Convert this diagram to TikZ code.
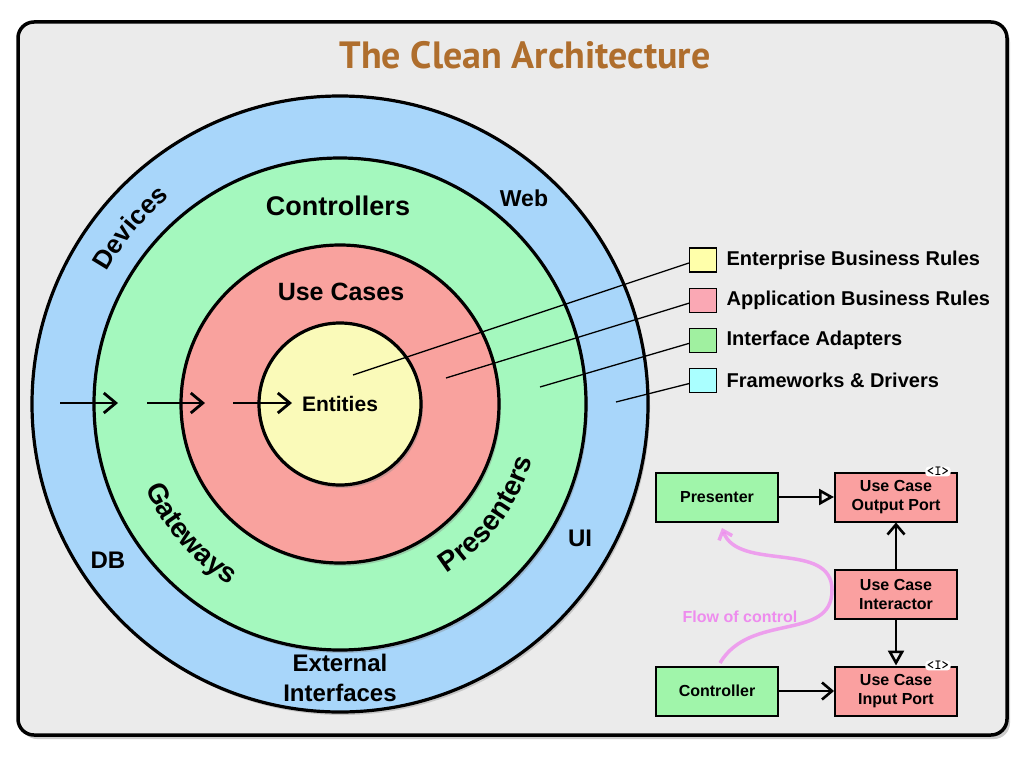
\documentclass[tikz,border=0pt]{standalone}
\usepackage{fontspec}
\setmainfont{Liberation Sans}
\newfontfamily\titlefont{PT Sans}
\usetikzlibrary{positioning,arrows.meta,shadows,decorations.text}

\definecolor{panelgray}{RGB}{235,235,235}
\definecolor{ringblue}{RGB}{168,214,250}
\definecolor{ringgreen}{RGB}{164,248,190}
\definecolor{ringred}{RGB}{249,162,158}
\definecolor{ringyellow}{RGB}{250,250,185}
\definecolor{legyellow}{RGB}{255,255,170}
\definecolor{legpink}{RGB}{250,168,180}
\definecolor{leggreen}{RGB}{160,240,160}
\definecolor{legcyan}{RGB}{170,255,255}
\definecolor{boxgreen}{RGB}{160,245,170}
\definecolor{boxred}{RGB}{250,160,160}
\definecolor{flowpink}{RGB}{238,140,238}
\definecolor{titlebrown}{RGB}{175,110,45}

\newcommand\arcfont{\bfseries\fontsize{26}{26}\selectfont}
\newcommand\arcfontbig{\bfseries\fontsize{28}{28}\selectfont}

\begin{document}
\begin{tikzpicture}[
  x=1pt, y=-1pt,
  ring/.style={circle, draw, line width=3.2pt, inner sep=0pt,
    drop shadow={shadow xshift=2pt, shadow yshift=-3pt, opacity=0.35}},
  lbl/.style={font=\bfseries\fontsize{24}{30}\selectfont, align=center},
  legbox/.style={rectangle, draw, line width=1.2pt, minimum width=27pt, minimum height=24pt, inner sep=0pt},
  legtext/.style={font=\bfseries\fontsize{20}{20}\selectfont},
  ucbox/.style={rectangle, draw, line width=2pt, minimum width=122pt, minimum height=49pt,
    inner sep=0pt, align=center, font=\bfseries\fontsize{16}{19}\selectfont},
  ifmark/.style={rectangle, fill=white, rounded corners=3pt, inner xsep=1.5pt, inner ysep=0.5pt, font=\ttfamily\bfseries\fontsize{14}{14}\selectfont},
  layerarrow/.style={line width=2.8pt, -{Straight Barb[length=12pt, width=20pt]}},
  barb/.style={line width=2.6pt, -{Straight Barb[length=10pt, width=17pt]}},
  realize/.style={line width=2.6pt, -{Triangle[open, length=15pt, width=16pt]}}
]
\useasboundingbox (0,0) rectangle (1024,768);

% panel and title
\draw[line width=3.5pt, rounded corners=16pt, fill=panelgray,
  drop shadow={shadow xshift=3pt, shadow yshift=-4pt, opacity=0.4}] (18,22) rectangle (1007,735);
\node[font=\titlefont\bfseries\fontsize{38}{38}\selectfont, text=titlebrown] (title) at (525,55) {The Clean Architecture};

% the four layers
\node[ring, fill=ringblue, minimum size=616pt] (frameworks) at (340,404) {};
\node[ring, fill=ringgreen, minimum size=492pt] (adapters) at (340,404) {};
\node[ring, fill=ringred, minimum size=318pt] (usecases) at (340,404) {};
\node[ring, fill=ringyellow, minimum size=162pt, font=\bfseries\fontsize{21}{21}\selectfont] (entities) at (340,404) {Entities};

% dependency arrows
\coordinate (dep1a) at (60,403);  \coordinate (dep1b) at (118,403);
\coordinate (dep2a) at (147,403); \coordinate (dep2b) at (205,403);
\coordinate (dep3a) at (233,403); \coordinate (dep3b) at (292,403);
\draw[layerarrow] (dep1a) -- (dep1b);
\draw[layerarrow] (dep2a) -- (dep2b);
\draw[layerarrow] (dep3a) -- (dep3b);

% straight labels
\node[lbl, font=\bfseries\fontsize{27}{27}\selectfont] (ctrllbl) at (338,206) {Controllers};
\node[lbl, font=\bfseries\fontsize{25}{25}\selectfont] (uclbl) at (341,292) {Use Cases};
\node[lbl, font=\bfseries\fontsize{23}{23}\selectfont] (weblbl) at (524,198) {Web};
\node[lbl] (dblbl) at (108,560) {DB};
\node[lbl] (uilbl) at (580,538) {UI};
\node[lbl] (extlbl) at (340,678) {External\\Interfaces};

% curved labels
\begin{scope}[shift={(340,404)}, y=1pt]
\path[decorate, decoration={text along path, text align=center, text={|\arcfont|Devices}}]
  (170:268) arc[start angle=170, end angle=110, radius=268];
\path[decorate, decoration={text along path, text align=center, text={|\arcfontbig|Gateways}}]
  (186:212) arc[start angle=186, end angle=256, radius=212];
\path[decorate, decoration={text along path, text align=center, text={|\arcfontbig|Presenters}}]
  (-68:200) arc[start angle=-68, end angle=-6, radius=200];
\end{scope}

% legend
\node[legbox, fill=legyellow] (legent) at (703,260) {};
\node[legbox, fill=legpink, below=15pt of legent] (legapp) {};
\node[legbox, fill=leggreen, below=15pt of legapp] (legifa) {};
\node[legbox, fill=legcyan, below=15pt of legifa] (legfwk) {};
\node[legtext, right=6pt of legent] (legenttxt) {Enterprise Business Rules};
\node[legtext, right=6pt of legapp] (legapptxt) {Application Business Rules};
\node[legtext, right=6pt of legifa] (legifatxt) {Interface Adapters};
\node[legtext, right=6pt of legfwk] (legfwktxt) {Frameworks \& Drivers};

\coordinate (ptent) at (353,375);
\coordinate (ptapp) at (446,378);
\coordinate (ptifa) at (540,387);
\coordinate (ptfwk) at (616,402);
\draw[line width=1.3pt] (ptent) -- ([yshift=-3pt]legent.west);
\draw[line width=1.3pt] (ptapp) -- ([yshift=-3pt]legapp.west);
\draw[line width=1.3pt] (ptifa) -- ([yshift=-3pt]legifa.west);
\draw[line width=1.3pt] (ptfwk) -- ([yshift=-3pt]legfwk.west);

% use case flow
\node[ucbox, fill=boxgreen] (presenter) at (717,497) {Presenter};
\node[ucbox, fill=boxred, right=55pt of presenter] (outport) {Use Case\\Output Port};
\node[ucbox, fill=boxred, below=46pt of outport] (interactor) {Use Case\\Interactor};
\node[ucbox, fill=boxred, below=46pt of interactor] (inport) {Use Case\\Input Port};
\node[ucbox, fill=boxgreen, left=55pt of inport] (controller) {Controller};
\node[ifmark] (outmark) at ([xshift=-20pt]outport.north east) {<I>};
\node[ifmark] (inmark) at ([xshift=-20pt]inport.north east) {<I>};

\draw[realize] (presenter) -- (outport);
\draw[barb] (interactor) -- (outport);
\draw[realize] (interactor) -- (inport);
\draw[barb] (controller) -- (inport);

\coordinate (flowstart) at (720,663);
\coordinate (flowend) at (722,528);
\draw[flowpink, line width=3.5pt, opacity=0.8, -{Straight Barb[length=8pt, width=14pt]}]
  (flowstart) .. controls (750,612) and (832,642) .. (832,590)
  .. controls (832,540) and (738,572) .. (flowend);
\node[text=flowpink, font=\bfseries\fontsize{16}{16}\selectfont] (flowlbl) at (740,617) {Flow of control};
\end{tikzpicture}
\end{document}
